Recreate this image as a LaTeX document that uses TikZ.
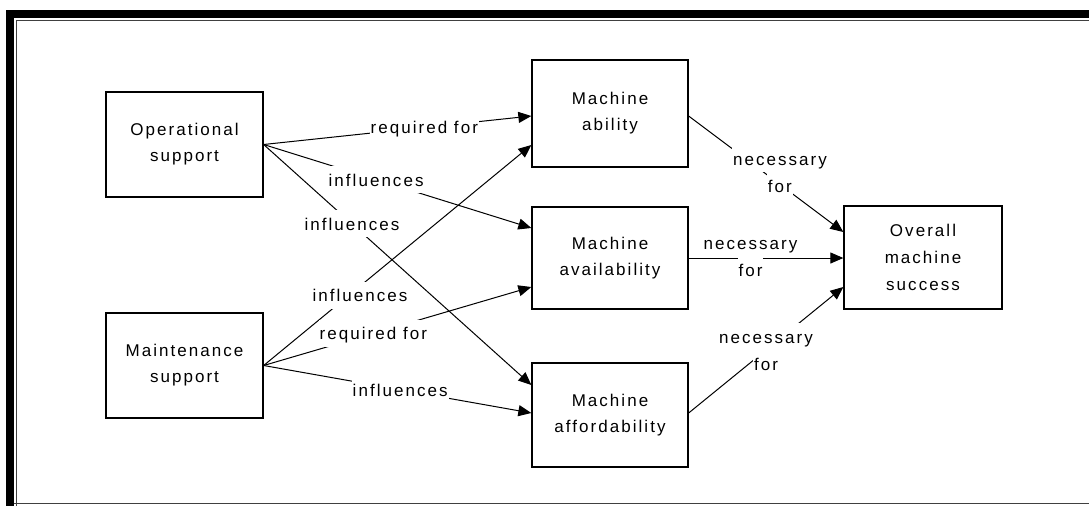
\documentclass[tikz,border=0pt]{standalone}
\usepackage{fontspec}
\setmainfont{Liberation Sans}[LetterSpace=12]
\usetikzlibrary{arrows.meta,calc}

% one line of a connector label on its own white strip (one full line slot)
\newlength\slotpad
\setlength\slotpad{1pt}
\newcommand\slotline[1]{{\fboxsep=0pt\colorbox{white}{\rule[-7pt]{0pt}{27pt}\hspace{\slotpad}#1\hspace{\slotpad}}}}

\begin{document}
\begin{tikzpicture}[x=1pt,y=-1pt,
  box/.style={draw=black, line width=1.3pt, fill=white, align=center,
    font=\fontsize{17}{26}\selectfont, inner sep=0pt},
  conn/.style={line width=1pt, -{Triangle[length=13pt,width=11pt]}},
  lbl/.style={inner sep=0pt, align=center,
    font=\fontsize{17}{27}\selectfont}]

% canvas
\useasboundingbox (0,0) rectangle (1089,506);
\fill[white] (0,0) rectangle (1089,506);

% frame
\fill[black] (6,10) rectangle (1089,18);
\fill[black] (6,10) rectangle (14,506);
\draw[black!75, line width=1pt] (16,506) -- (16,20.5) -- (1089,20.5);
\draw[black!75, line width=1pt] (14,503.5) -- (1089,503.5);

% boxes
\node[box, minimum width=157pt, minimum height=105pt] (op) at (184.5,144.5) {Operational\\support};
\node[box, minimum width=157pt, minimum height=105pt] (mt) at (184.5,365.5) {Maintenance\\support};
\node[box, minimum width=156pt, minimum height=107pt] (ab) at (610,113.5) {Machine\\ability};
\node[box, minimum width=156pt, minimum height=102pt] (av) at (610,258) {Machine\\availability};
\node[box, minimum width=156pt, minimum height=104pt] (af) at (610,415) {Machine\\affordability};
\node[box, minimum width=158pt, minimum height=103pt, font=\fontsize{17}{27}\selectfont] (ov) at (923,257.5) {Overall\\machine\\success};

% support -> machine properties
\draw[conn] (op.east) -- node[lbl, pos=0.60] {\slotline{required for}} ($(ab.west)+(0,2.5)$);
\draw[conn] (op.east) -- node[lbl, pos=0.42] {\slotline{influences}} ($(av.west)+(0,-30)$);
\draw[conn] (op.east) -- node[lbl, pos=0.33] {\slotline{influences}} ($(af.west)+(0,-30)$);
\draw[conn] (mt.east) -- node[lbl, pos=0.36, yshift=-9pt] {\slotline{influences}} ($(ab.west)+(0,31.5)$);
\draw[conn] (mt.east) -- node[lbl, pos=0.41] {\slotline{required for}} ($(av.west)+(0,29)$);
\draw[conn] (mt.east) -- node[lbl, pos=0.51] {\slotline{influences}} ($(af.west)+(0,-2)$);

% machine properties -> overall success
\draw[conn] ($(ab.east)+(0,2.5)$) -- node[lbl, pos=0.59, yshift=12pt] {\slotline{necessary}\\\slotline{for}} ($(ov.west)+(0,-25.5)$);
\draw[conn] (av.east) -- node[lbl, pos=0.40, yshift=1.5pt] {\slotline{necessary}\\\slotline{for}} ($(ov.west)+(0,0.5)$);
\draw[conn] ($(af.east)+(0,-2)$) -- node[lbl, pos=0.50] {\slotline{necessary}\\\slotline{for}} ($(ov.west)+(0,29.5)$);
\end{tikzpicture}
\end{document}
